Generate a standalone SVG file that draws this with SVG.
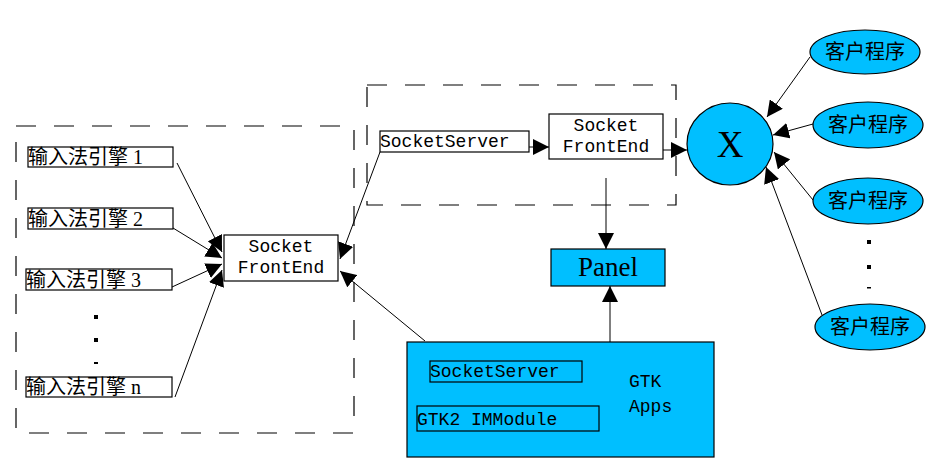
<svg xmlns="http://www.w3.org/2000/svg" width="950" height="474" viewBox="0 0 950 474">
<style>
.dash{fill:none;stroke:#000;stroke-width:1.2;stroke-dasharray:20 18}
.box{fill:#fff;stroke:#000;stroke-width:1.2}
.blue{fill:#00BFFF;stroke:#000;stroke-width:1.2}
.cn{font-family:"Liberation Serif","Noto Sans CJK SC",serif;font-size:20px;fill:#000}
.mono{font-family:"Liberation Mono",monospace;font-size:18px;fill:#000}
.serif{font-family:"Liberation Serif",serif;fill:#000}
.edge{stroke:#000;stroke-width:1;fill:none}
.dot{fill:#000}
</style>
<defs>
<marker id="ah" viewBox="0 0 10 10" refX="10" refY="5" markerWidth="16" markerHeight="16" markerUnits="userSpaceOnUse" orient="auto">
<path d="M0,0 L10,5 L0,10 z" fill="#000"/>
</marker>
</defs>
<rect id="group-left" class="dash" x="16" y="126" width="338" height="307"/>
<rect id="group-top" class="dash" x="367" y="85" width="309" height="120"/>
<g id="engine1"><rect class="box" x="28" y="147" width="145" height="20"/><text class="cn" x="28" y="164">输入法引擎 1</text></g>
<g id="engine2"><rect class="box" x="28" y="208" width="145" height="21"/><text class="cn" x="28" y="226">输入法引擎 2</text></g>
<g id="engine3"><rect class="box" x="26" y="269" width="146" height="21"/><text class="cn" x="26" y="287">输入法引擎 3</text></g>
<g id="engine-n"><rect class="box" x="26" y="377" width="146" height="20"/><text class="cn" x="26" y="394">输入法引擎 n</text></g>
<g id="engine-dots"><rect class="dot" x="94" y="315" width="4" height="4"/><rect class="dot" x="94" y="338" width="4" height="4"/><rect class="dot" x="94" y="362" width="4" height="2"/></g>
<g id="frontend-left"><rect class="box" x="224" y="235" width="114" height="46"/><text class="mono" x="281" y="252" text-anchor="middle">Socket</text><text class="mono" x="281" y="273" text-anchor="middle">FrontEnd</text></g>
<g id="socketserver-top"><rect class="box" x="380" y="131" width="149" height="21"/><text class="mono" x="380" y="147">SocketServer</text></g>
<g id="frontend-top"><rect class="box" x="549" y="114" width="114" height="45"/><text class="mono" x="606" y="131" text-anchor="middle">Socket</text><text class="mono" x="606" y="152" text-anchor="middle">FrontEnd</text></g>
<g id="panel"><rect class="blue" x="551" y="249" width="114" height="37"/><text class="serif" x="608" y="276" font-size="27" text-anchor="middle">Panel</text></g>
<g id="gtk-apps"><rect class="blue" x="407" y="342" width="307" height="115"/>
<rect fill="none" stroke="#000" stroke-width="1.2" x="430" y="361" width="152" height="21"/><text class="mono" x="430" y="377">SocketServer</text>
<rect fill="none" stroke="#000" stroke-width="1.2" x="417" y="406" width="182" height="25"/><text class="mono" x="417" y="425" font-size="19">GTK2 IMModule</text>
<text class="mono" x="629" y="387" font-size="20">GTK</text><text class="mono" x="629" y="412" font-size="20">Apps</text></g>
<g id="x-server"><ellipse class="blue" cx="730" cy="144" rx="43" ry="41"/><text class="serif" x="730" y="157" font-size="37" text-anchor="middle">X</text></g>
<g id="client1"><ellipse class="blue" cx="865" cy="52" rx="55" ry="22"/><text class="cn" x="865" y="59" text-anchor="middle">客户程序</text></g>
<g id="client2"><ellipse class="blue" cx="868" cy="125" rx="55" ry="23"/><text class="cn" x="868" y="132" text-anchor="middle">客户程序</text></g>
<g id="client3"><ellipse class="blue" cx="868" cy="201" rx="55" ry="23"/><text class="cn" x="868" y="208" text-anchor="middle">客户程序</text></g>
<g id="client-n"><ellipse class="blue" cx="870" cy="327" rx="55" ry="23"/><text class="cn" x="870" y="334" text-anchor="middle">客户程序</text></g>
<g id="client-dots"><rect class="dot" x="867" y="240" width="4" height="4"/><rect class="dot" x="867" y="265" width="4" height="4"/><rect class="dot" x="867" y="287" width="4" height="1.5"/></g>
<g id="connectors">
<line class="edge" marker-end="url(#ah)" x1="177" y1="163" x2="222" y2="252"/>
<line class="edge" marker-end="url(#ah)" x1="173" y1="228" x2="222" y2="258"/>
<line class="edge" marker-end="url(#ah)" x1="172" y1="287" x2="222" y2="264"/>
<line class="edge" marker-end="url(#ah)" x1="175" y1="397" x2="222" y2="270"/>
<line class="edge" marker-end="url(#ah)" x1="380" y1="152" x2="340" y2="259"/>
<line class="edge" marker-end="url(#ah)" x1="425" y1="341" x2="340" y2="271"/>
<line class="edge" marker-end="url(#ah)" x1="529" y1="147" x2="549" y2="147"/>
<line class="edge" marker-end="url(#ah)" x1="663" y1="150" x2="687" y2="150"/>
<line class="edge" marker-end="url(#ah)" x1="606" y1="178" x2="606" y2="249"/>
<line class="edge" marker-end="url(#ah)" x1="610" y1="342" x2="610" y2="286"/>
<line class="edge" marker-end="url(#ah)" x1="810" y1="57" x2="767" y2="117"/>
<line class="edge" marker-end="url(#ah)" x1="813" y1="124" x2="773" y2="135"/>
<line class="edge" marker-end="url(#ah)" x1="813" y1="200" x2="774" y2="152"/>
<line class="edge" marker-end="url(#ah)" x1="822" y1="315" x2="766" y2="167"/>
</g>
</svg>
